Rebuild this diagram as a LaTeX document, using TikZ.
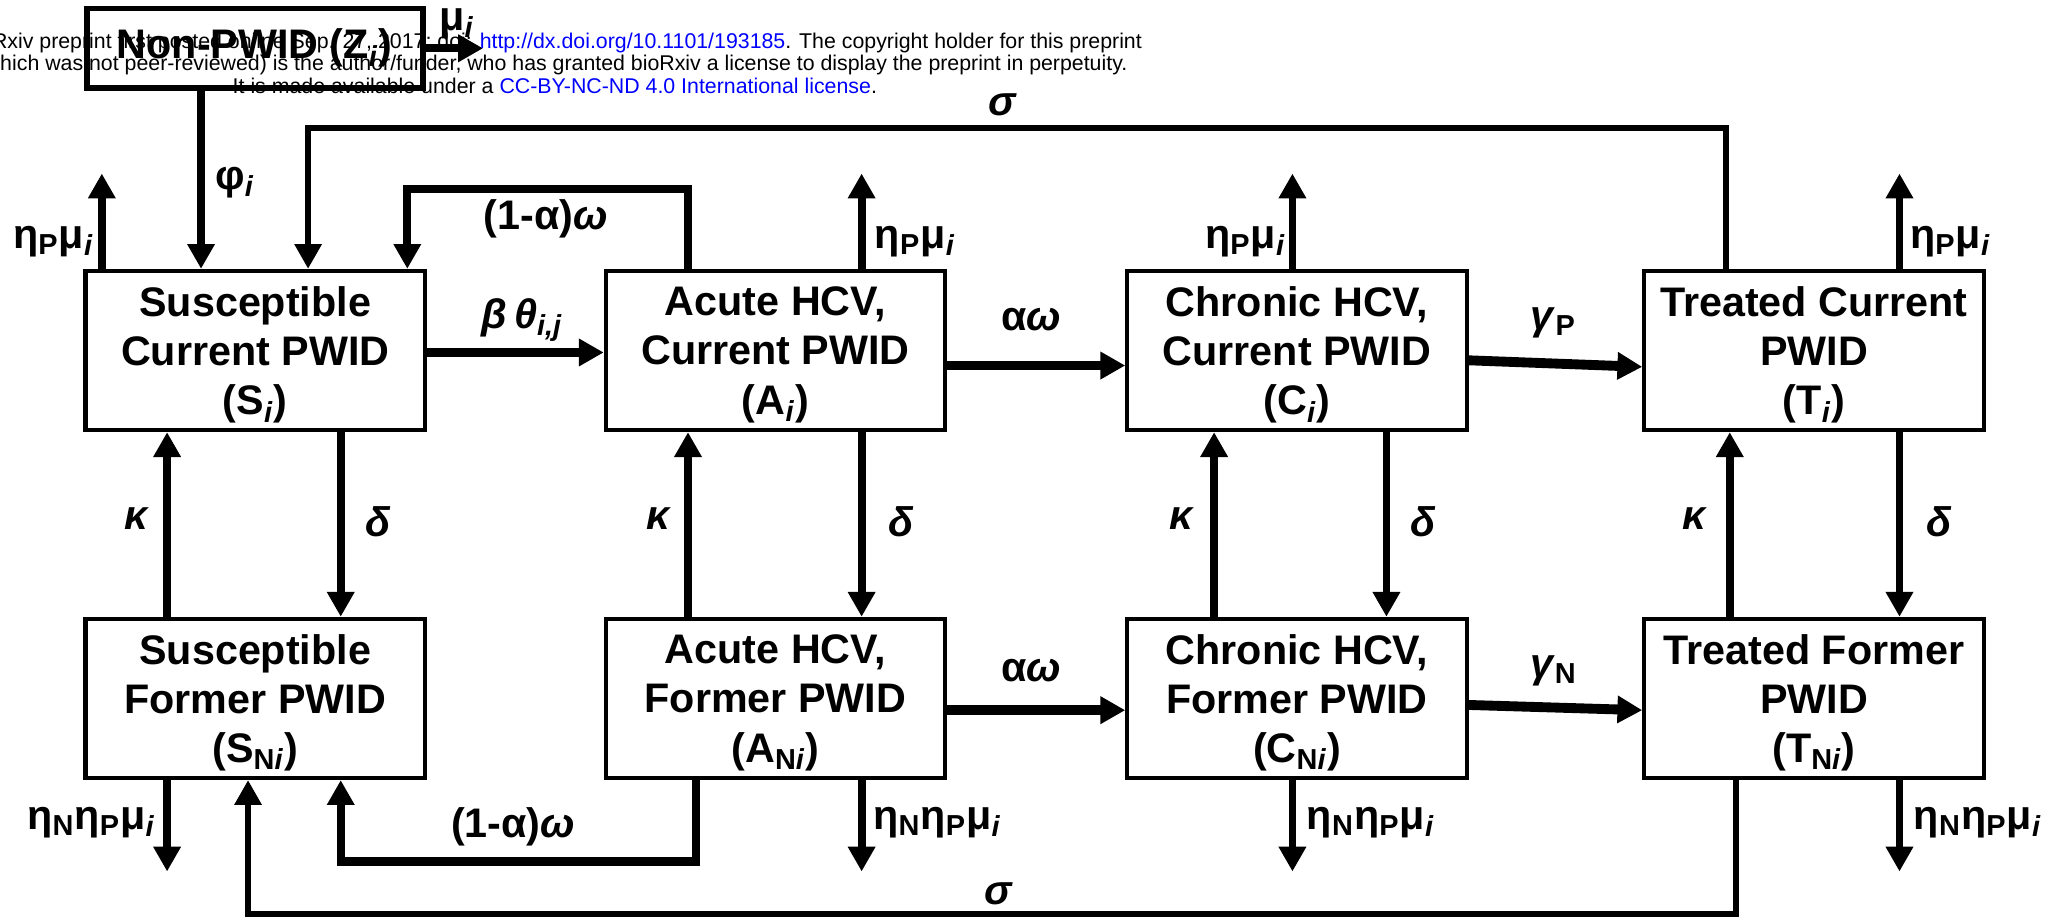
\documentclass[tikz,border=0pt]{standalone}
\usepackage{fontspec}
\setmainfont{Liberation Sans}
\usetikzlibrary{arrows.meta}

\begin{document}
\begin{tikzpicture}[x=0.02cm, y=-0.02cm,
    comp/.style={draw, line width=1.8pt, minimum width=5.2cm, minimum height=2.44cm,
      inner sep=0pt, text depth=0pt, align=center, font=\fontsize{18}{21.5}\selectfont\bfseries},
    flow/.style={line width=3.4pt, -{Triangle[length=0.38cm,width=0.4cm]}},
    main/.style={flow, line width=4.3pt},
    lab/.style={inner sep=0pt, font=\fontsize{18}{21.5}\selectfont\bfseries},
    note/.style={inner sep=0pt, font=\fontsize{9.3}{11}\selectfont}]
  \useasboundingbox (0,0) rectangle (1568,705);

  \node[comp] (S) at (195.5,268.5) {Susceptible\\Current PWID\\(S\textsubscript{\textit{i}})};
  \node[comp] (A) at (594,268.5) {Acute HCV,\\Current PWID\\(A\textsubscript{\textit{i}})};
  \node[comp] (C) at (993.5,268.5) {Chronic HCV,\\Current PWID\\(C\textsubscript{\textit{i}})};
  \node[comp] (T) at (1389.5,268.5) {Treated Current\\PWID\\(T\textsubscript{\textit{i}})};

  \node[comp] (SN) at (195.5,535) {Susceptible\\Former PWID\\(S\textsubscript{N\textit{i}})};
  \node[comp] (AN) at (594,535) {Acute HCV,\\Former PWID\\(A\textsubscript{N\textit{i}})};
  \node[comp] (CN) at (993.5,535) {Chronic HCV,\\Former PWID\\(C\textsubscript{N\textit{i}})};
  \node[comp] (TN) at (1389.5,535) {Treated Former\\PWID\\(T\textsubscript{N\textit{i}})};

  \node[draw, line width=2.6pt, minimum width=5.15cm, minimum height=1.22cm, inner sep=0pt,
    font=\fontsize{18}{21.5}\selectfont\bfseries] (Z) at (195,37) {Non-PWID (Z\textsubscript{\textit{i}})};

  \draw[flow] (Z.south -| 154,0) -- (S.north -| 154,0);
  \draw[flow] (Z.east) -- ++(44,0);
  \draw[flow, line width=2.6pt] (T.north -| 1322,0) -- (1322,98) -- (236,98) -- (S.north -| 236,0);
  \draw[flow, line width=3.6pt] (A.north -| 527,0) -- (527,145) -- (312,145) -- (S.north -| 312,0);
  \draw[flow, line width=3.6pt] (AN.south -| 533,0) -- (533,660) -- (261,660) -- (SN.south -| 261,0);
  \draw[flow, line width=2.6pt] (TN.south -| 1330,0) -- (1330,700) -- (190,700) -- (SN.south -| 190,0);

  \draw[main] (S.east |- 0,270) -- (A.west |- 0,270);
  \draw[main] (A.east |- 0,280) -- (C.west |- 0,280);
  \draw[main] (C.east |- 0,276) -- (T.west |- 0,281);
  \draw[main] (AN.east |- 0,544) -- (CN.west |- 0,544);
  \draw[main] (CN.east |- 0,540) -- (TN.west |- 0,544);

  \foreach \cur/\frm/\xk/\xd in {S/SN/128/261, A/AN/527/660, C/CN/930/1062, T/TN/1325/1455} {
    \draw[flow] (\frm.north -| \xk,0) -- (\cur.south -| \xk,0);
    \draw[flow] (\cur.south -| \xd,0) -- (\frm.north -| \xd,0);
  }
  \foreach \b/\x in {S/78, A/660, C/990, T/1455}
    \draw[flow] (\b.north -| \x,0) -- ++(0,-73);
  \foreach \b/\x in {SN/128, AN/660, CN/990, TN/1455}
    \draw[flow] (\b.south -| \x,0) -- ++(0,70);

  \node[lab] (lphi) at (180,140) {φ\textsubscript{\textit{i}}};
  \node[lab] (lmu) at (350,18) {μ\textsubscript{\textit{i}}};
  \node[lab] (lsigt) at (768,80) {\textit{σ}};
  \node[lab] (lomt) at (418,168) {(1-α)\textit{ω}};
  \node[lab] (lomb) at (393,633) {(1-α)\textit{ω}};
  \node[lab] (lsigb) at (765,685) {\textit{σ}};
  \node[lab] (lbeta) at (400,245) {\textit{β\,θ}\textsubscript{\textit{i,j}}};
  \node[lab] (laot) at (790,245) {α\textit{ω}};
  \node[lab] (laob) at (790,514) {α\textit{ω}};
  \node[lab] (lgp) at (1190,247) {\textit{γ}\textsubscript{P}};
  \node[lab] (lgn) at (1190,514) {\textit{γ}\textsubscript{N}};
  \foreach \x/\n in {105/1, 505/2, 905/3, 1298/4}
    \node[lab] (lk\n) at (\x,397) {\textit{κ}};
  \foreach \x/\n in {290/1, 690/2, 1090/3, 1485/4}
    \node[lab] (ld\n) at (\x,400) {\textit{δ}};
  \foreach \x/\n in {41/1, 701/2, 954/3, 1494/4}
    \node[lab] (lp\n) at (\x,185) {η\textsubscript{P}μ\textsubscript{\textit{i}}};
  \foreach \x/\n in {70/1, 718/2, 1050/3, 1515/4}
    \node[lab] (ln\n) at (\x,630) {η\textsubscript{N}η\textsubscript{P}μ\textsubscript{\textit{i}}};

  \node[note, anchor=east] (w1) at (875,33) {bioRxiv preprint first posted online Sep. 27, 2017; doi: \textcolor{blue}{http://dx.doi.org/10.1101/193185}. The copyright holder for this preprint};
  \node[note, anchor=east] (w2) at (864,50) {(which was not peer-reviewed) is the author/funder, who has granted bioRxiv a license to display the preprint in perpetuity.};
  \node[note] (w3) at (425,66) {It is made available under a \textcolor{blue}{CC-BY-NC-ND 4.0 International license}.};
\end{tikzpicture}
\end{document}
